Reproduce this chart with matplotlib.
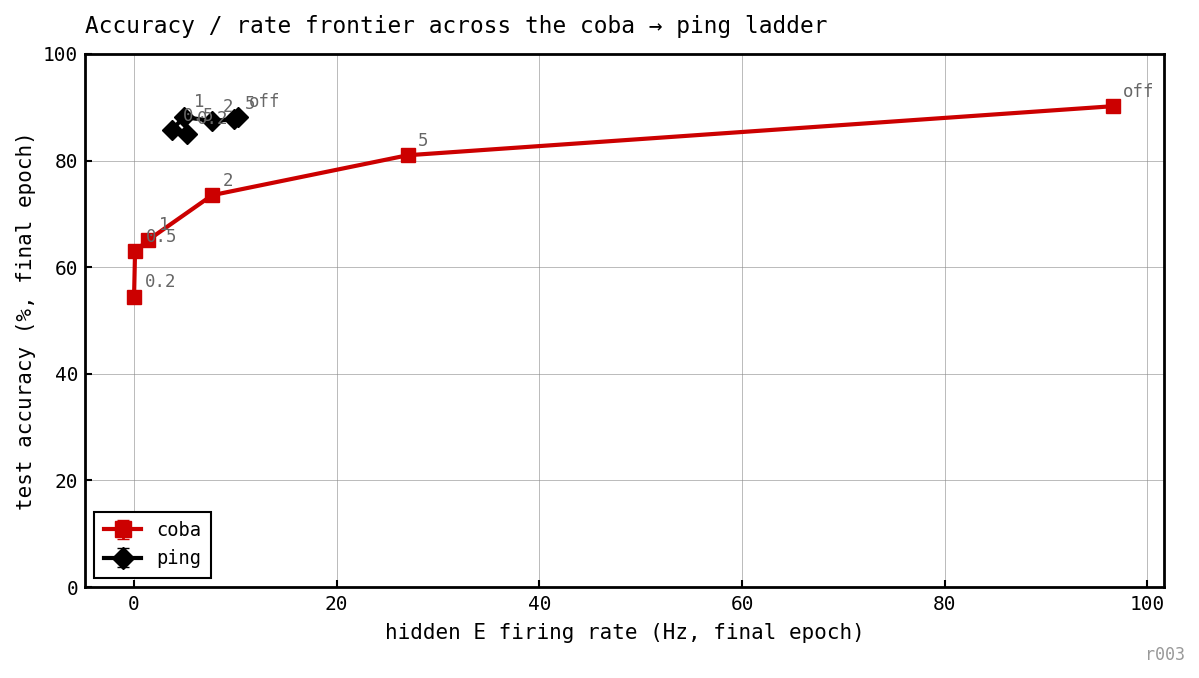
import matplotlib
matplotlib.use("Agg")
import matplotlib.pyplot as plt

plt.rcParams['font.family'] = ['DejaVu Sans Mono', 'DejaVu Sans']

ladder = ["0.2", "0.5", "1", "2", "5", "off"]
coba_rate = [0.0, 0.1, 1.4, 7.7, 27.0, 96.6]
coba_acc = [54.4, 63.0, 65.1, 73.5, 81.0, 90.2]
coba_err = [0.0, 0.0, 0.0, 0.0, 0.0, 0.0]
ping_rate = [5.2, 3.75, 4.9, 7.7, 9.9, 10.3]
ping_acc = [85.0, 85.7, 88.2, 87.4, 87.8, 88.2]
ping_err = [0.0, 0.0, 0.0, 0.0, 0.0, 0.0]

fig = plt.figure(figsize=(11.99, 6.78), dpi=100)
ax = fig.add_axes([0.0709, 0.1342, 0.9001, 0.7862])

ax.errorbar(coba_rate, coba_acc, yerr=coba_err, color="#cc0000", marker="s",
            markersize=10, linewidth=3, capsize=4, elinewidth=2, label="coba")
ax.errorbar(ping_rate, ping_acc, yerr=ping_err, color="black", marker="D",
            markersize=10, linewidth=3, capsize=4, elinewidth=2, label="ping")

for lab, x, y in zip(ladder, coba_rate, coba_acc):
    ax.annotate(lab, (x, y), xytext=(7.5, 4), textcoords="offset points",
                fontsize=12.5, color="#666666", va="bottom", ha="left")
for lab, x, y in zip(ladder, ping_rate, ping_acc):
    ax.annotate(lab, (x, y), xytext=(7.5, 4), textcoords="offset points",
                fontsize=12.5, color="#666666", va="bottom", ha="left")

ax.set_xlim(-4.84, 101.67)
ax.set_ylim(0, 100)
ax.set_xticks([0, 20, 40, 60, 80, 100])
ax.set_yticks([0, 20, 40, 60, 80, 100])
ax.grid(True, color="#888888", linewidth=0.5, alpha=0.8)
ax.tick_params(direction="in", labelsize=14, width=1.5, length=5, pad=5)
ax.tick_params(axis="x", pad=6)
for s in ax.spines.values():
    s.set_linewidth(2)

ax.set_xlabel("hidden E firing rate (Hz, final epoch)", fontsize=15, labelpad=6)
ax.set_ylabel("test accuracy (%, final epoch)", fontsize=15, labelpad=5)
ax.set_title("Accuracy / rate frontier across the coba \u2192 ping ladder",
             loc="left", fontsize=16.4, pad=15)

leg = ax.legend(loc="lower left", fontsize=13.5, fancybox=False, framealpha=1,
                edgecolor="black", handlelength=2.0, markerscale=1.1,
                borderpad=0.5)
leg.get_frame().set_linewidth(1.5)

fig.text(0.988, 0.02, "r003", ha="right", va="bottom", fontsize=12, color="#999999")

fig.savefig("out.png", dpi=100)
